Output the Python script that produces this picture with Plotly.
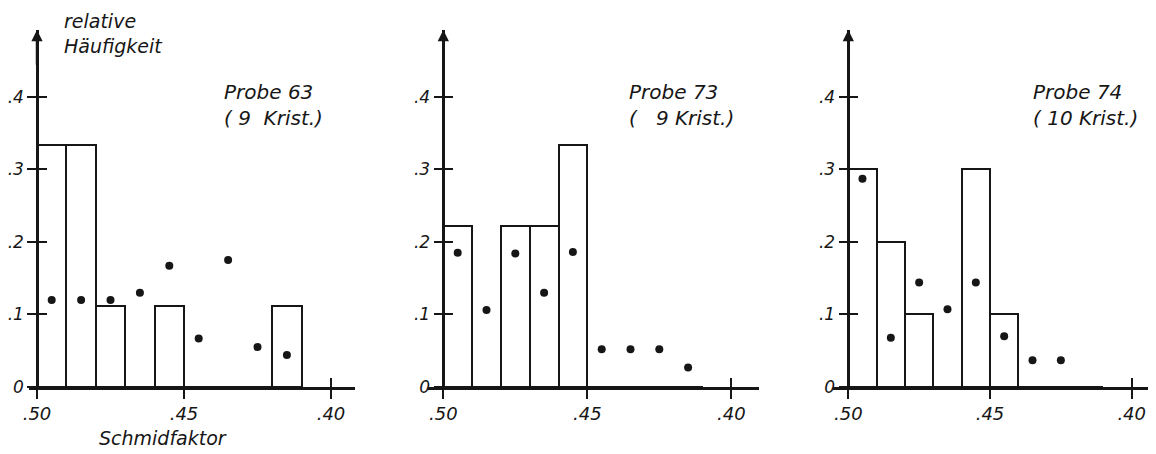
import plotly.graph_objects as go

# Schmid factor class centres (bins 0.01 wide, counted down from .50)
bin_centers = [0.495, 0.485, 0.475, 0.465, 0.455, 0.445, 0.435, 0.425, 0.415]

bars_63 = [0.333, 0.333, 0.111, 0, 0.111, 0, 0, 0, 0.111]
dots_63 = [0.12, 0.12, 0.12, 0.13, 0.167, 0.067, 0.175, 0.055, 0.044]

bars_73 = [0.222, 0, 0.222, 0.222, 0.333, 0, 0, 0, 0]
dots_73 = [0.185, 0.106, 0.184, 0.130, 0.186, 0.052, 0.052, 0.052, 0.027]

bars_74 = [0.3, 0.2, 0.1, 0, 0.3, 0.1, 0, 0, 0]
dots_74 = [0.287, 0.068, 0.144, 0.107, 0.144, 0.070, 0.037, 0.037, None]

sample_names = ["Probe 63", "Probe 73", "Probe 74"]
crystal_counts = ["( 9\u00a0\u00a0Krist.)", "(\u00a0\u00a0\u00a09 Krist.)", "( 10 Krist.)"]

x_tickvals = [0.50, 0.45, 0.40]
x_ticktext = [".50", ".45", ".40"]
y_tickvals = [0, 0.1, 0.2, 0.3, 0.4]
y_ticktext = ["0", ".1", ".2", ".3", ".4"]

# the page body adds an 8px margin, so the figure is drawn 8px in from the window corner
OFF = 8
W, H = 1156 - OFF, 454 - OFF
TOP_PX, BASE_PX = 30, 387          # window pixels of arrow tip and x axis
T, B = TOP_PX - OFF, H - (BASE_PX - OFF)
INK = "#161616"
FONT = "DejaVu Sans"
Y_TOP = 0.492


def paper_x(px):
    return (px - OFF) / W


def paper_y(py):
    return (H - B - (py - OFF)) / (H - T - B)


# window-pixel geometry of each panel: (x-axis start, y-axis position, x-axis end, px per unit)
panels = [
    (29, 37, 355, 2940),
    (428, 443.3, 759, 2880),
    (833, 848.3, 1156, 2834),
]

series = [(bars_63, dots_63), (bars_73, dots_73), (bars_74, dots_74)]

fig = go.Figure()
layout = {}
annotations = []

x_tick_font = dict(family=FONT, size=18, color=INK, style="italic")
y_tick_font = dict(family=FONT, size=17, color=INK, style="italic")

for i, ((start, ypos, end, scale), (bars, dots)) in enumerate(zip(panels, series)):
    n = i + 1
    xo = n + 3
    sfx = "" if n == 1 else str(n)
    xa, ya = f"x{sfx}", f"y{sfx}"
    end = min(end, W + OFF)
    xr = [0.50 + (ypos - start) / scale, 0.50 - (end - ypos) / scale]
    dom = [paper_x(start), paper_x(end)]
    pos = paper_x(ypos)

    fig.add_trace(go.Bar(
        x=bin_centers, y=bars, width=0.01,
        marker=dict(color="white", line=dict(color=INK, width=2)),
        xaxis=xa, yaxis=ya, showlegend=False, hoverinfo="skip",
    ))
    fig.add_trace(go.Scatter(
        x=bin_centers, y=dots, mode="markers",
        marker=dict(color=INK, size=8),
        xaxis=xa, yaxis=ya, showlegend=False, cliponaxis=False,
    ))
    # empty trace so the inner-tick overlay axes get drawn
    fig.add_trace(go.Scatter(x=[None], y=[None], xaxis=f"x{xo}", yaxis=f"y{xo}",
                             showlegend=False, hoverinfo="skip"))

    layout[f"xaxis{sfx}"] = dict(
        domain=dom, range=xr, anchor=ya, showgrid=False, zeroline=False,
        showline=True, linecolor=INK, linewidth=2.5, automargin=False,
        ticks="outside", ticklen=9, tickwidth=2, tickcolor=INK,
        tickvals=x_tickvals, ticktext=x_ticktext, tickfont=x_tick_font,
    )
    layout[f"xaxis{xo}"] = dict(
        overlaying=xa, range=xr, anchor=ya, showgrid=False, zeroline=False,
        showline=False, ticks="inside", ticklen=9, tickwidth=2, tickcolor=INK,
        tickvals=x_tickvals, showticklabels=False, automargin=False,
    )
    layout[f"yaxis{sfx}"] = dict(
        range=[0, Y_TOP], anchor="free", position=pos, showgrid=False, zeroline=False,
        showline=True, linecolor=INK, linewidth=2.5, automargin=False,
        ticks="outside", ticklen=9, tickwidth=2, tickcolor=INK,
        tickvals=y_tickvals, ticktext=y_ticktext, tickfont=y_tick_font,
    )
    layout[f"yaxis{xo}"] = dict(
        overlaying=ya, range=[0, Y_TOP], anchor="free", position=pos,
        showgrid=False, zeroline=False, showline=False, automargin=False,
        ticks="inside", ticklen=9, tickwidth=2, tickcolor=INK,
        tickvals=y_tickvals, showticklabels=False,
    )

    # arrow head on the ordinate
    annotations.append(dict(
        x=0.50, y=Y_TOP, ax=0.50, ay=Y_TOP - 0.05, xref=xa, yref=ya,
        axref=xa, ayref=ya, text="", showarrow=True,
        arrowhead=2, arrowsize=0.9, arrowwidth=2.5, arrowcolor=INK,
    ))

    label_x = [222, 627, 1031][i]
    label_font = dict(family=FONT, size=20, color=INK, style="italic")
    annotations.append(dict(
        x=paper_x(label_x), y=paper_y(78), xref="paper", yref="paper",
        xanchor="left", yanchor="top", text=sample_names[i], showarrow=False,
        font=label_font,
    ))
    annotations.append(dict(
        x=paper_x(label_x), y=paper_y(104), xref="paper", yref="paper",
        xanchor="left", yanchor="top", text=crystal_counts[i], showarrow=False,
        font=label_font,
    ))

axis_font = dict(family=FONT, size=19, color=INK, style="italic")
annotations.append(dict(
    x=paper_x(62), y=paper_y(8), xref="paper", yref="paper",
    xanchor="left", yanchor="top", align="left",
    text="relative<br>Häufigkeit", showarrow=False, font=axis_font,
))
annotations.append(dict(
    x=paper_x(163), y=paper_y(438), xref="paper", yref="paper",
    xanchor="center", yanchor="middle", text="Schmidfaktor",
    showarrow=False, font=axis_font,
))

fig.update_layout(
    **layout,
    annotations=annotations,
    width=W, height=H,
    margin=dict(l=0, r=0, t=T, b=B, autoexpand=False),
    paper_bgcolor="white", plot_bgcolor="white",
    bargap=0, showlegend=False,
)

fig.write_html("out.html")
